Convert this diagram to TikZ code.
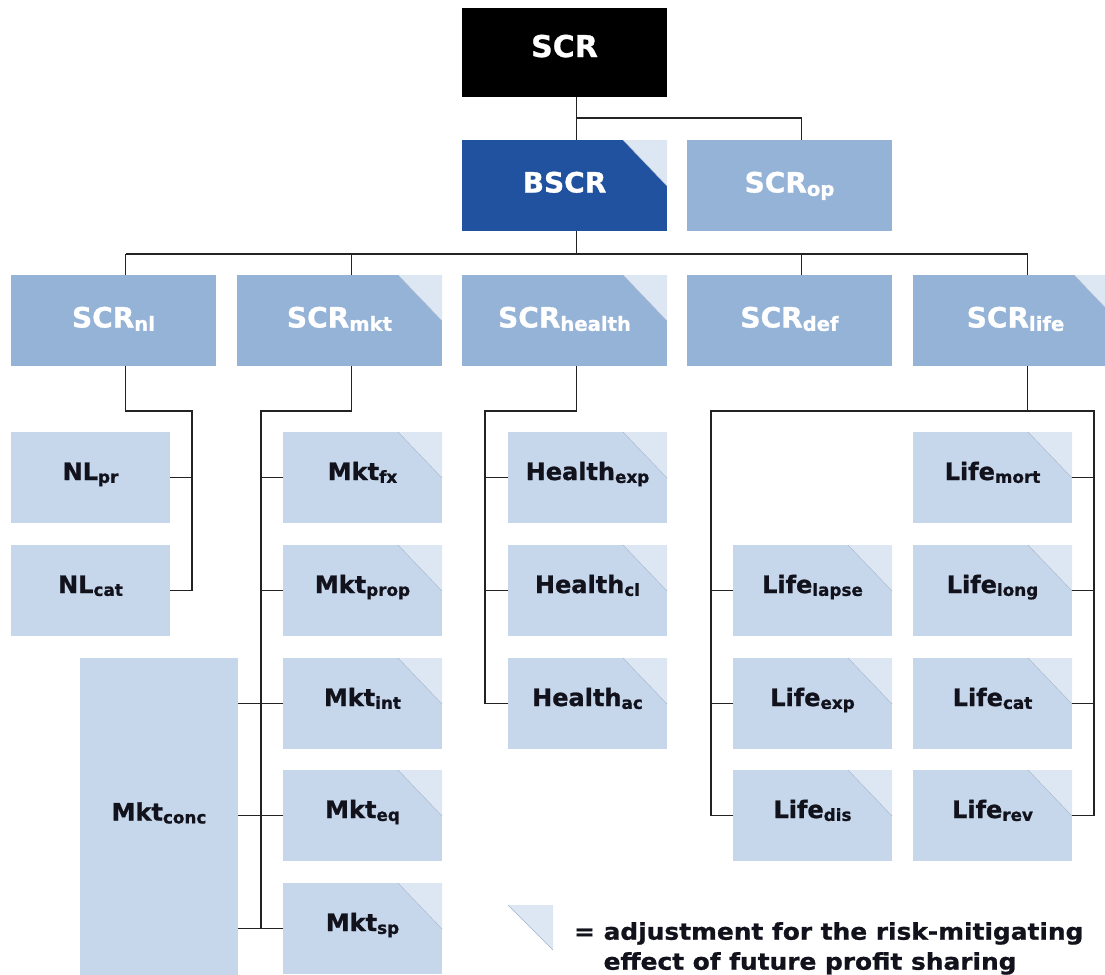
\documentclass[tikz,border=0pt]{standalone}
\usepackage{fontspec}
\setmainfont{DejaVu Sans}[BoldFeatures={FakeBold=1}]
\newfontfamily\legendfont{DejaVu Sans Bold}[FakeStretch=1.08,FakeBold=1]
\usepackage{graphicx}
\usetikzlibrary{calc}
\definecolor{darkblue}{RGB}{33,82,160}
\definecolor{midblue}{RGB}{149,179,215}
\definecolor{paleblue}{RGB}{198,214,235}
\definecolor{trifill}{RGB}{221,230,243}
\definecolor{triedge}{RGB}{165,180,202}
\definecolor{wirecol}{RGB}{35,35,35}
\definecolor{ink}{RGB}{18,18,28}
\newcommand{\lo}[1]{\raisebox{-0.12em}{\scalebox{0.7}{#1}}}
\newcommand{\cornertri}[1]{%
  \fill[trifill] ([xshift=-44pt]#1.north east) -- (#1.north east) -- ([yshift=-46pt]#1.north east) -- cycle;
  \draw[triedge] ([xshift=-44pt]#1.north east) -- ([yshift=-46pt]#1.north east);}
\begin{document}
\begin{tikzpicture}[x=1pt,y=-1pt,
  box/.style={anchor=north west, inner sep=0pt, outer sep=0pt},
  topbox/.style={box, fill=black, text=white, minimum width=205pt, minimum height=89pt,
    text height=9pt, text depth=0pt, font=\bfseries\fontsize{30}{32}\selectfont},
  lvtwo/.style={box, fill=midblue, text=white, minimum width=205pt, minimum height=91pt,
    text height=14pt, text depth=0pt, font=\bfseries\fontsize{28}{30}\selectfont},
  bscrbox/.style={lvtwo, fill=darkblue},
  lvthree/.style={box, fill=paleblue, text=ink, minimum width=159pt, minimum height=91pt,
    text height=10pt, text depth=5pt, font=\bfseries\fontsize{24}{26}\selectfont},
  wire/.style={draw=wirecol, line width=1.9pt},
  legendtext/.style={anchor=north west, inner sep=0pt, align=left, text=ink,
    font=\legendfont\fontsize{23}{30}\selectfont}]
\useasboundingbox (0,0) rectangle (1105,974);
\clip (0,0) rectangle (1105,974);
% level 1
\node[topbox] (scr) at (462,8) {SCR};
\node[bscrbox] (bscr) at (462,140) {BSCR};
\node[lvtwo] (scrop) at (687,140) {SCR\lo{op}};
% level 2
\node[lvtwo] (nl) at (11,275) {SCR\lo{nl}};
\node[lvtwo] (mkt) at (237,275) {SCR\lo{mkt}};
\node[lvtwo] (health) at (462,275) {SCR\lo{health}};
\node[lvtwo] (def) at (687,275) {SCR\lo{def}};
\node[lvtwo] (life) at (913,275) {SCR\lo{life}};
% level 3
\node[lvthree] (nlpr) at (11,432) {NL\lo{pr}};
\node[lvthree] (nlcat) at (11,545) {NL\lo{cat}};
\node[lvthree] (mktfx) at (283,432) {Mkt\lo{fx}};
\node[lvthree] (mktprop) at (283,545) {Mkt\lo{prop}};
\node[lvthree] (mktint) at (283,658) {Mkt\lo{int}};
\node[lvthree] (mkteq) at (283,770) {Mkt\lo{eq}};
\node[lvthree] (mktsp) at (283,883) {Mkt\lo{sp}};
\node[lvthree, minimum width=158pt, minimum height=320pt] (mktconc) at (80,658) {Mkt\lo{conc}};
\node[lvthree] (hexp) at (508,432) {Health\lo{exp}};
\node[lvthree] (hcl) at (508,545) {Health\lo{cl}};
\node[lvthree] (hac) at (508,658) {Health\lo{ac}};
\node[lvthree] (llapse) at (733,545) {Life\lo{lapse}};
\node[lvthree] (lexp) at (733,658) {Life\lo{exp}};
\node[lvthree] (ldis) at (733,770) {Life\lo{dis}};
\node[lvthree] (lmort) at (913,432) {Life\lo{mort}};
\node[lvthree] (llong) at (913,545) {Life\lo{long}};
\node[lvthree] (lcat) at (913,658) {Life\lo{cat}};
\node[lvthree] (lrev) at (913,770) {Life\lo{rev}};
% corner triangles
\foreach \n in {bscr,mkt,health,life,mktfx,mktprop,mktint,mkteq,mktsp,hexp,hcl,hac,llapse,lexp,ldis,lmort,llong,lcat,lrev}{\cornertri{\n}}
% connector anchor points
\coordinate (scrbot) at ([xshift=12pt]scr.south);
\coordinate (bscrtop) at ([xshift=12pt]bscr.north);
\coordinate (bscrbot) at ([xshift=12pt]bscr.south);
\coordinate (optop) at ([xshift=12pt]scrop.north);
\foreach \n in {nl,mkt,health,def,life}{
  \coordinate (\n top) at ([xshift=12pt]\n.north);
  \coordinate (\n bot) at ([xshift=12pt]\n.south);}
\coordinate (bus) at (0,254);
\coordinate (bthree) at (0,411);
\coordinate (nlv) at (192,0);
\coordinate (mktv) at (261,0);
\coordinate (hv) at (485,0);
\coordinate (llv) at (711,0);
\coordinate (lrv) at (1094,0);
% top connectors
\draw[wire] (scrbot) -- (bscrtop);
\draw[wire] ($(scrbot)!0.49!(bscrtop)$) -| (optop);
\draw[wire] (bscrbot) -- (bscrbot |- bus);
\draw[wire] (nltop |- bus) -- (lifetop |- bus);
\foreach \n in {nl,mkt,def,life}{\draw[wire] (\n top) -- (\n top |- bus);}
% NL
\draw[wire] (nlbot) -- (nlbot |- bthree) -| (nlv |- nlcat.east);
\foreach \c in {nlpr,nlcat}{\draw[wire] (\c.east) -- (\c.east -| nlv);}
% Mkt
\draw[wire] (mktbot) -- (mktbot |- bthree) -| (mktv |- mktsp.west);
\foreach \c in {mktfx,mktprop,mktint,mkteq,mktsp}{\draw[wire] (\c.west) -- (\c.west -| mktv);}
\foreach \c in {mktint,mkteq,mktsp}{\draw[wire] (mktconc.east |- \c.west) -- (\c.west -| mktv);}
% Health
\draw[wire] (healthbot) -- (healthbot |- bthree) -| (hv |- hac.west);
\foreach \c in {hexp,hcl,hac}{\draw[wire] (\c.west) -- (\c.west -| hv);}
% Life
\draw[wire] (lifebot) -- (lifebot |- bthree);
\draw[wire] (llv |- ldis.west) -- (llv |- bthree) -- (lrv |- bthree) -- (lrv |- lrev.east);
\foreach \c in {llapse,lexp,ldis}{\draw[wire] (\c.west) -- (\c.west -| llv);}
\foreach \c in {lmort,llong,lcat,lrev}{\draw[wire] (\c.east) -- (\c.east -| lrv);}
% legend
\coordinate (legtri) at (553,905);
\fill[trifill] ([xshift=-45pt]legtri) -- (legtri) -- ([yshift=-45pt]legtri) -- cycle;
\draw[triedge] ([xshift=-45pt]legtri) -- ([yshift=-45pt]legtri);
\node[legendtext] (legend) at (574,922) {= adjustment for the risk-mitigating\\\phantom{= }effect of future profit sharing};
\end{tikzpicture}
\end{document}
